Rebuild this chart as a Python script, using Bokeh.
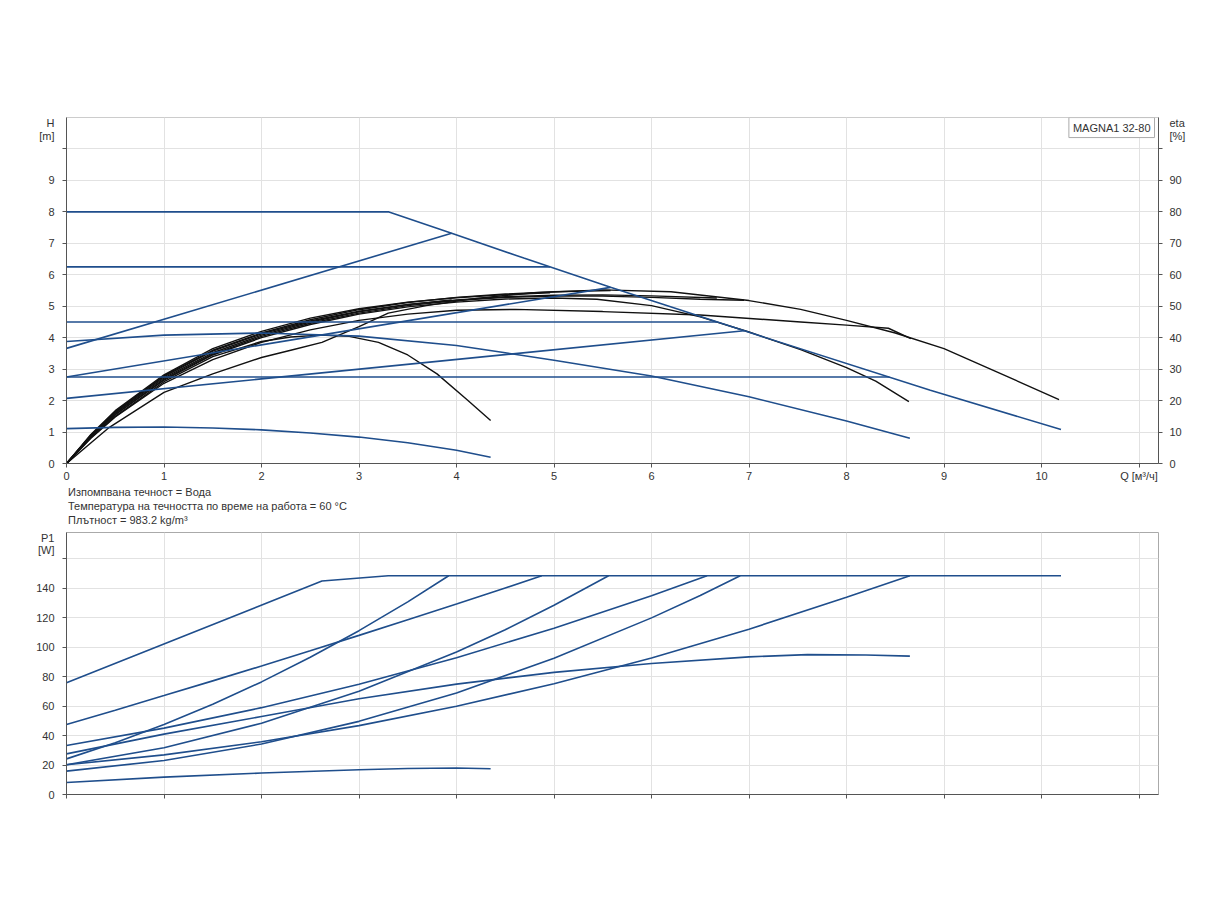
from bokeh.plotting import figure
from bokeh.models import Range1d, LinearAxis, FixedTicker, Label, Div
from bokeh.layouts import column
from bokeh.embed import file_html
from bokeh.resources import INLINE

# ---------------- data ----------------
# Top chart: head curves H [m] vs Q [m3/h]
h_max_q = [0, 3.3, 3.95, 4.69, 5.58, 7.0, 8.86, 10.2]
h_max_h = [8.0, 8.0, 7.32, 6.53, 5.6, 4.17, 2.33, 1.08]
h_c625_q = [0, 4.96]
h_c625_h = [6.25, 6.25]
h_c45_q = [0, 6.67]
h_c45_h = [4.5, 4.5]
h_c275_q = [0, 8.44]
h_c275_h = [2.75, 2.75]
h_pt_q = [0, 3.95]
h_pt_h = [3.66, 7.32]
h_pm_q = [0, 5.58]
h_pm_h = [2.75, 5.6]
h_pl_q = [0, 6.95]
h_pl_h = [2.07, 4.22]
h_fix_q = [0, 1, 2, 3, 4, 4.5, 5, 6, 7, 8, 8.65]
h_fix_h = [3.88, 4.08, 4.15, 4.05, 3.75, 3.52, 3.28, 2.78, 2.12, 1.35, 0.8]
h_min_q = [0, 0.5, 1, 1.5, 2, 2.5, 3, 3.5, 4, 4.35]
h_min_h = [1.11, 1.15, 1.16, 1.13, 1.07, 0.97, 0.84, 0.66, 0.42, 0.2]

# Top chart: efficiency curves eta [%]
eta_max_q = [0, 0.44, 1, 1.5, 2, 2.3, 2.62, 3.0, 3.3, 3.69, 4.2, 4.8, 5.5, 6.2, 7.0, 7.53, 8.0, 8.5, 9.0, 9.5, 10.18]
eta_max_v = [0, 11.5, 22.6, 28.5, 33.7, 36.0, 38.5, 43.5, 47.8, 50.2, 52.5, 54.3, 55.2, 54.6, 51.8, 49.0, 45.5, 41.5, 36.5, 29.7, 20.3]
eta_min_q = [0, 0.25, 0.5, 1, 1.5, 2.0, 2.3, 2.6, 2.9, 3.2, 3.5, 3.8, 4.1, 4.35]
eta_min_v = [0, 8.2, 15.0, 26.0, 34.0, 38.8, 40.2, 40.8, 40.4, 38.5, 34.5, 28.5, 20.5, 13.7]
eta_fix_q = [0, 0.25, 0.5, 1, 1.5, 2, 2.5, 3, 3.5, 4, 4.5, 5, 5.44, 6, 6.5, 7, 7.53, 8, 8.3, 8.64]
eta_fix_v = [0, 8.5, 15.5, 26.5, 34.5, 40, 44.2, 47.5, 49.8, 51.3, 52.3, 52.6, 52.2, 50.2, 46.6, 41.8, 36.2, 30.5, 26.2, 19.7]
eta_c275_q = [0, 0.25, 0.5, 1, 1.5, 2, 2.5, 3, 3.5, 4, 4.6, 5.5, 6.5, 7.53, 8.0, 8.43, 8.66]
eta_c275_v = [0, 8, 14.8, 25.5, 33, 38.5, 42.5, 45.5, 47.5, 48.7, 49.0, 48.3, 47.2, 45.0, 44.0, 43.0, 39.7]
eta_c45_q = [0, 0.25, 0.5, 1, 1.5, 2, 2.5, 3, 3.5, 4, 4.5, 5, 5.5, 6, 6.67]
eta_c45_v = [0, 8.8, 16, 27.2, 35.2, 40.8, 45, 48.2, 50.5, 52, 53, 53.5, 53.6, 53.3, 52.6]
eta_pl_q = [0, 0.25, 0.5, 1, 1.5, 2, 2.5, 3, 3.5, 4, 4.5, 5, 5.5, 6, 6.5, 6.95]
eta_pl_v = [0, 8.6, 15.6, 26.8, 34.8, 40.4, 44.6, 47.8, 50.2, 51.8, 52.8, 53.2, 53.2, 52.8, 52.2, 51.9]
eta_pm_q = [0, 0.25, 0.5, 1, 1.5, 2, 2.5, 3, 3.5, 4, 4.5, 5, 5.58]
eta_pm_v = [0, 9, 16.5, 27.9, 36, 41.5, 45.7, 48.9, 51.2, 52.8, 53.9, 54.6, 55.0]
eta_c625_q = [0, 0.25, 0.5, 1, 1.5, 2, 2.5, 3, 3.5, 4, 4.5, 4.96]
eta_c625_v = [0, 9.2, 16.8, 28.2, 36.5, 42, 46.2, 49.2, 51.3, 52.7, 53.7, 54.3]
eta_pt_q = [0, 0.25, 0.5, 1, 1.5, 2, 2.5, 3, 3.5, 3.95]
eta_pt_v = [0, 8.9, 16.3, 27.6, 35.7, 41.2, 45.3, 48.4, 50.6, 52.0]

# Bottom chart: power P1 [W]
p_max_q = [0, 2.62, 3.3, 10.2]
p_max_v = [75.9, 145, 148.6, 148.6]
p_c625_q = [0, 0.5, 1, 1.5, 2, 2.5, 3, 3.5, 4, 4.5, 4.875]
p_c625_v = [47.6, 57.3, 67.2, 77.2, 87.3, 97.6, 108.1, 118.7, 129.4, 140.3, 148.6]
p_c45_q = [0, 1, 2, 3, 4, 5, 6, 6.57]
p_c45_v = [33.3, 45.1, 59.0, 74.9, 92.9, 113.0, 135.1, 148.6]
p_pt_q = [0, 0.5, 1, 1.5, 2, 2.5, 3, 3.5, 3.92]
p_pt_v = [24.2, 35.1, 47.5, 61.3, 76.5, 93.2, 111.3, 130.9, 148.6]
p_fix_q = [0, 1, 2, 3, 4, 5, 6, 7, 7.6, 8.2, 8.65]
p_fix_v = [27.6, 41, 53, 65, 75, 83, 89, 93.5, 95, 94.8, 94]
p_pm_q = [0, 1, 2, 3, 4, 4.5, 5, 5.56]
p_pm_v = [20.2, 31.8, 48.4, 70.1, 96.8, 111.9, 128.6, 148.6]
p_c275_q = [0, 1, 2, 3, 4, 5, 6, 7, 8, 8.65]
p_c275_v = [20.2, 26.9, 35.8, 46.8, 60.0, 75.2, 92.7, 112.3, 134.0, 148.6]
p_pl_q = [0, 1, 2, 3, 4, 5, 6, 6.5, 6.91]
p_pl_v = [15.9, 23.1, 34.3, 49.7, 69.0, 92.5, 120.0, 135.2, 148.6]
p_min_q = [0, 1, 2, 3, 3.5, 4, 4.35]
p_min_v = [8.2, 11.8, 14.6, 16.8, 17.7, 18.0, 17.5]

# ticks and texts
q_ticks = list(range(0, 12))
h_ticks = list(range(0, 11))
h_labels = list(range(0, 10))
eta_ticks = list(range(0, 101, 10))
eta_labels = list(range(0, 91, 10))
p_ticks = list(range(0, 161, 20))
p_labels = list(range(0, 141, 20))
h_title = {10.81: "H", 10.40: "[m]"}
eta_title = {108.1: "eta", 104.0: "[%]"}
p_title = {174.0: "P1", 165.8: "[W]"}
q_title = {11: "Q [м³/ч]"}
model_name = "MAGNA1 32-80"
notes = ["Изпомпвана течност = Вода",
         "Температура на течността по време на работа = 60 °C",
         "Плътност = 983.2 kg/m³"]

# ---------------- styling ----------------
BLUE = "#1f4e8c"
BLACK = "#111111"
FONT = "Liberation Sans"
TXT = "#333333"
GRID = "#e2e2e2"
AXC = "#555555"


def style_axis(ax, standoff):
    ax.axis_line_color = AXC
    ax.major_tick_line_color = AXC
    ax.minor_tick_line_color = AXC
    ax.major_tick_out = 4
    ax.major_tick_in = 0
    ax.minor_tick_out = 4
    ax.minor_tick_in = 0
    ax.major_label_standoff = standoff
    ax.major_label_text_font = FONT
    ax.major_label_text_font_size = "11px"
    ax.major_label_text_color = TXT


def y_axis(ax, labels, marks, titles, standoff=8):
    ax.ticker = FixedTicker(ticks=labels + list(titles.keys()), minor_ticks=marks)
    ax.major_label_overrides = dict(titles)
    style_axis(ax, standoff)
    ax.major_tick_out = 0


# ---------------- top chart ----------------
top = figure(width=1208, height=485, x_range=Range1d(0, 11.2), y_range=Range1d(0, 11),
             output_backend="svg", toolbar_location=None,
             min_border_left=66, min_border_right=50, min_border_top=117, min_border_bottom=22)
top.extra_y_ranges = {"eta": Range1d(0, 110)}
top.outline_line_color = "#cccccc"

top.xaxis.ticker = FixedTicker(ticks=q_ticks)
top.xaxis.major_label_overrides = dict(q_title)
style_axis(top.xaxis[0], 2)
y_axis(top.yaxis[0], h_labels, h_ticks, h_title)
right = LinearAxis(y_range_name="eta")
y_axis(right, eta_labels, eta_ticks, eta_title, standoff=7)
top.add_layout(right, "right")
top.xgrid.ticker = FixedTicker(ticks=q_ticks)
top.ygrid.ticker = FixedTicker(ticks=h_ticks)
top.xgrid.grid_line_color = GRID
top.ygrid.grid_line_color = GRID

for qs, vs in [(eta_max_q, eta_max_v), (eta_min_q, eta_min_v), (eta_fix_q, eta_fix_v),
               (eta_c275_q, eta_c275_v), (eta_c45_q, eta_c45_v), (eta_pl_q, eta_pl_v),
               (eta_pm_q, eta_pm_v), (eta_c625_q, eta_c625_v), (eta_pt_q, eta_pt_v)]:
    top.line(qs, vs, y_range_name="eta", line_color=BLACK, line_width=1.4)

for qs, hs in [(h_max_q, h_max_h), (h_c625_q, h_c625_h), (h_c45_q, h_c45_h),
               (h_c275_q, h_c275_h), (h_pt_q, h_pt_h), (h_pm_q, h_pm_h),
               (h_pl_q, h_pl_h), (h_fix_q, h_fix_h), (h_min_q, h_min_h)]:
    top.line(qs, hs, line_color=BLUE, line_width=1.6)

top.add_layout(Label(x=10.72, y=10.68, text=model_name, text_font=FONT, text_font_size="11px",
                     text_color=TXT, text_align="center", text_baseline="middle",
                     background_fill_color="white", border_line_color="#aaaaaa", padding=4))

# ---------------- notes between the charts ----------------
div = Div(text="<br>".join(notes), width=700, height=43, margin=(0, 0, 0, 68),
          styles={"font-family": FONT, "font-size": "11px", "line-height": "14.2px",
                  "color": TXT, "white-space": "nowrap"})

# ---------------- bottom chart ----------------
bot = figure(width=1208, height=286, x_range=Range1d(0, 11.2), y_range=Range1d(0, 178),
             output_backend="svg", toolbar_location=None,
             min_border_left=66, min_border_right=50, min_border_top=4, min_border_bottom=20)
bot.outline_line_color = "#aaaaaa"
bot.xaxis.ticker = FixedTicker(ticks=[], minor_ticks=q_ticks)
style_axis(bot.xaxis[0], 2)
y_axis(bot.yaxis[0], p_labels, p_ticks, p_title)
bot.xgrid.ticker = FixedTicker(ticks=q_ticks)
bot.ygrid.ticker = FixedTicker(ticks=p_ticks)
bot.xgrid.grid_line_color = GRID
bot.ygrid.grid_line_color = GRID

for qs, vs in [(p_max_q, p_max_v), (p_c625_q, p_c625_v), (p_c45_q, p_c45_v),
               (p_pt_q, p_pt_v), (p_fix_q, p_fix_v), (p_pm_q, p_pm_v),
               (p_c275_q, p_c275_v), (p_pl_q, p_pl_v), (p_min_q, p_min_v)]:
    bot.line(qs, vs, line_color=BLUE, line_width=1.6)

layout = column(top, div, bot)
open("out.html", "w").write(file_html(layout, INLINE))
